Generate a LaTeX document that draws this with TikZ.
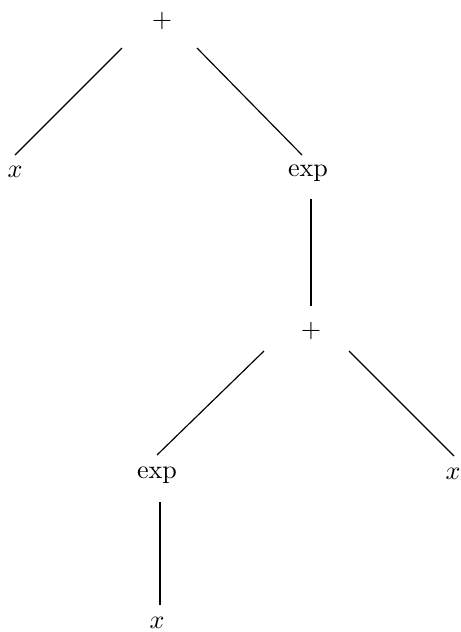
\documentclass[tikz,border=0pt]{standalone}
\begin{document}
\begin{tikzpicture}[x=0.383pt,y=-0.383pt,
  lbl/.style={inner sep=0pt,font=\normalsize},
  edge/.style={line width=0.45pt},
  vedge/.style={line width=0.75pt}]
\useasboundingbox (0,0) rectangle (461,632);
\node[lbl] (p1) at (162,21) {$+$};
\node[lbl] (x1) at (15,172) {$x$};
\node[lbl] (e1) at (308,173) {$\exp$};
\node[lbl] (p2) at (311,331) {$+$};
\node[lbl] (e2) at (157,475) {$\exp$};
\node[lbl] (x2) at (453,474) {$x$};
\node[lbl] (x3) at (157,623) {$x$};
\draw[edge] ([shift={(-40,27)}]p1.center) -- ([shift={(0,-17)}]x1.center);
\draw[edge] ([shift={(35,27)}]p1.center) -- ([shift={(-6,-18)}]e1.center);
\draw[vedge] ([shift={(3,26)}]e1.center) -- ([shift={(0,-25)}]p2.center);
\draw[edge] ([shift={(-47,20)}]p2.center) -- ([shift={(0,-20)}]e2.center);
\draw[edge] ([shift={(38,20)}]p2.center) -- ([shift={(1,-18)}]x2.center);
\draw[vedge] ([shift={(3,27)}]e2.center) -- ([shift={(3,-18)}]x3.center);
\end{tikzpicture}
\end{document}
